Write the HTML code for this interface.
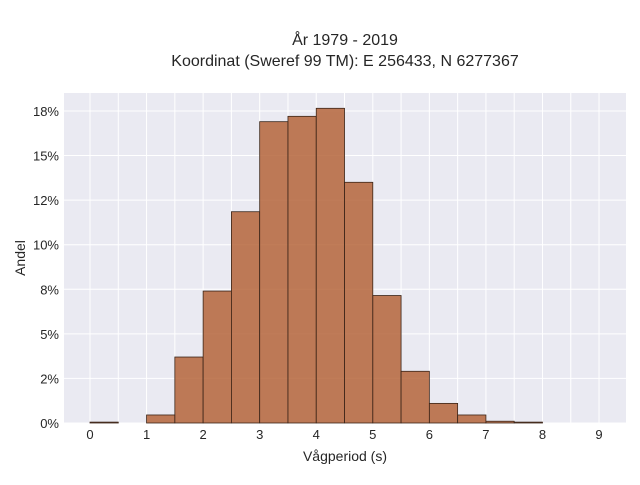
<!DOCTYPE html>
<html><head><meta charset="utf-8"><style>
body{margin:0;background:#fff;font-family:"Liberation Sans",sans-serif}
text{font-family:"Liberation Sans",sans-serif;fill:#262626}
</style></head><body>
<svg width="640" height="480">
<text x="345" y="45" text-anchor="middle" font-size="16">År 1979 - 2019</text>
<text x="345" y="66" text-anchor="middle" font-size="16">Koordinat (Sweref 99 TM): E 256433, N 6277367</text>
<rect x="64" y="93" width="562" height="330" fill="#eaeaf2"/>
<g id="grid"></g><g id="bars"></g><g id="ticks"></g>
<text x="345" y="461" text-anchor="middle" font-size="14">Vågperiod (s)</text>
<text transform="translate(25,258) rotate(-90)" text-anchor="middle" font-size="14">Andel</text>
</svg>
<script>
const binStarts=[0,0.5,1,1.5,2,2.5,3,3.5,4,4.5,5,5.5,6,6.5,7,7.5];
const binValues=[0.05,0,0.45,3.7,7.4,11.85,16.9,17.2,17.65,13.5,7.15,2.9,1.1,0.45,0.1,0.05];
const binWidth=0.5;
const xTicks=[0,1,2,3,4,5,6,7,8,9];
const yTicks=[0,2.5,5,7.5,10,12.5,15,17.5];
const yTickLabels=["0%","2%","5%","8%","10%","12%","15%","18%"];
const NS="http://www.w3.org/2000/svg";
const x=v=>90+v*56.56, y=v=>423-v*17.83;
const grid=document.getElementById('grid'),bars=document.getElementById('bars'),ticks=document.getElementById('ticks');
function mk(tag,a,p){const e=document.createElementNS(NS,tag);for(const k in a)e.setAttribute(k,a[k]);p.appendChild(e);return e;}
for(let v=0;v<=9.5;v+=0.5){const l=mk('line',{x1:x(v),x2:x(v),y1:93,y2:423,stroke:'#fff','stroke-width':1},grid);

}
yTicks.forEach((v,i)=>{const l=mk('line',{x1:64,x2:626,y1:y(v),y2:y(v),stroke:'#fff','stroke-width':1},grid);


const t=mk('text',{x:59,y:y(v)+5,'text-anchor':'end','font-size':13},ticks);t.textContent=yTickLabels[i];

});
xTicks.forEach(v=>{const t=mk('text',{x:x(v),y:439,'text-anchor':'middle','font-size':13},ticks);t.textContent=v;

});
binStarts.forEach((s,i)=>{const v=binValues[i];if(v<=0)return;
const r=mk('rect',{x:x(s),y:y(v),width:x(s+binWidth)-x(s),height:423-y(v),fill:'#b5653b','fill-opacity':0.85,stroke:'#3a2418','stroke-width':0.8},bars);

});
</script>
</body></html>
